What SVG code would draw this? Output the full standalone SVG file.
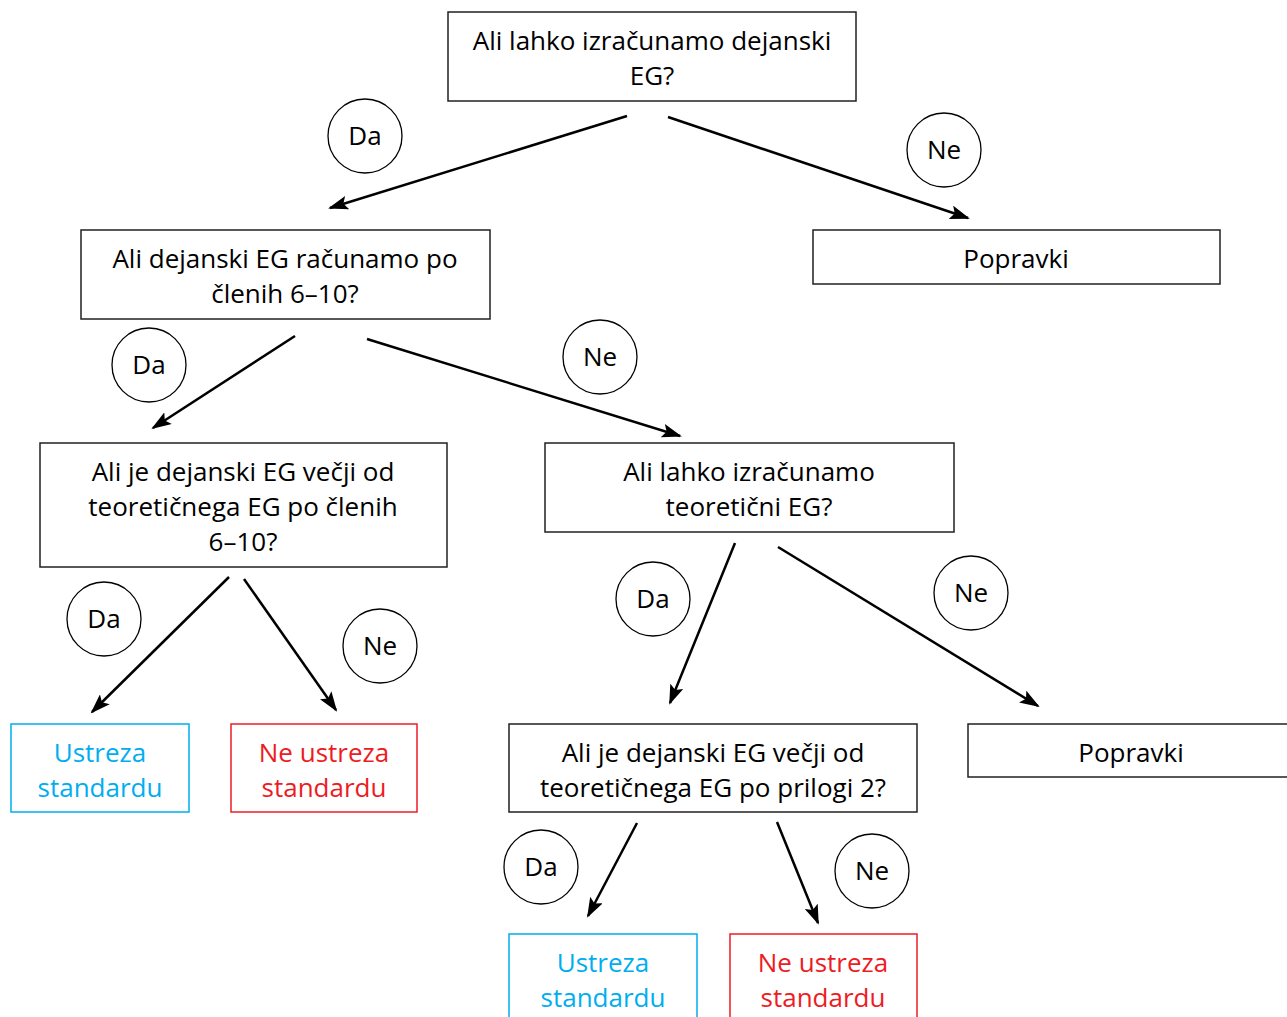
<svg xmlns="http://www.w3.org/2000/svg" width="1287" height="1017" viewBox="0 0 1287 1017">
<style>
.box{fill:#fff;stroke:#231f20;stroke-width:1.5}
.cy{fill:#fff;stroke:#00aeef;stroke-width:1.5}
.rd{fill:#fff;stroke:#ed1c24;stroke-width:1.5}
.c{fill:#fff;stroke:#000;stroke-width:1.3}
text{font-family:"Open Sans","Noto Sans",sans-serif;font-size:26px;text-anchor:middle;fill:#000}
.tc{fill:#00aeef}
.tr{fill:#ed1c24}
.ln{stroke:#000;stroke-width:2.5;fill:none;marker-end:url(#ah)}
</style>
<defs>
<marker id="ah" viewBox="0 0 20 14" refX="18" refY="7" markerWidth="20" markerHeight="14" markerUnits="userSpaceOnUse" orient="auto">
<path d="M0,0 L20,7 L0,14 L4,7 Z" fill="#000"/>
</marker>
</defs>
<rect width="1287" height="1017" fill="#fff"/>
<g id="connectors">
<line class="ln" x1="627" y1="116" x2="330" y2="208"/>
<line class="ln" x1="668" y1="117" x2="968" y2="218"/>
<line class="ln" x1="295" y1="336" x2="153" y2="428"/>
<line class="ln" x1="367" y1="339" x2="680" y2="436"/>
<line class="ln" x1="229" y1="577" x2="92" y2="712"/>
<line class="ln" x1="244" y1="579" x2="336" y2="710"/>
<line class="ln" x1="735" y1="543" x2="670" y2="703"/>
<line class="ln" x1="778" y1="547" x2="1038" y2="706"/>
<line class="ln" x1="637" y1="823" x2="588" y2="916"/>
<line class="ln" x1="777" y1="822" x2="818" y2="923"/>
</g>
<g id="n1"><rect class="box" x="448" y="12" width="408" height="89"/><text x="652" y="50">Ali lahko izračunamo dejanski</text><text x="652" y="85">EG?</text></g>
<g id="n2"><rect class="box" x="81" y="230" width="409" height="89"/><text x="285" y="268">Ali dejanski EG računamo po</text><text x="285" y="303">členih 6–10?</text></g>
<g id="n3"><rect class="box" x="813" y="230" width="407" height="54"/><text x="1016" y="268">Popravki</text></g>
<g id="n4"><rect class="box" x="40" y="443" width="407" height="124"/><text x="243" y="481">Ali je dejanski EG večji od</text><text x="243" y="516">teoretičnega EG po členih</text><text x="243" y="551">6–10?</text></g>
<g id="n5"><rect class="box" x="545" y="443" width="409" height="89"/><text x="749" y="481">Ali lahko izračunamo</text><text x="749" y="516">teoretični EG?</text></g>
<g id="n6"><rect class="cy" x="11" y="724" width="178" height="88"/><text class="tc" x="100" y="762">Ustreza</text><text class="tc" x="100" y="797">standardu</text></g>
<g id="n7"><rect class="rd" x="231" y="724" width="186" height="88"/><text class="tr" x="324" y="762">Ne ustreza</text><text class="tr" x="324" y="797">standardu</text></g>
<g id="n8"><rect class="box" x="509" y="724" width="408" height="88"/><text x="713" y="762">Ali je dejanski EG večji od</text><text x="713" y="797">teoretičnega EG po prilogi 2?</text></g>
<g id="n9"><rect class="box" x="968" y="724" width="330" height="53"/><text x="1131" y="762">Popravki</text></g>
<g id="n10"><rect class="cy" x="509" y="934" width="188" height="100"/><text class="tc" x="603" y="972">Ustreza</text><text class="tc" x="603" y="1007">standardu</text></g>
<g id="n11"><rect class="rd" x="730" y="934" width="187" height="100"/><text class="tr" x="823" y="972">Ne ustreza</text><text class="tr" x="823" y="1007">standardu</text></g>
<g id="labels">
<g id="l1"><circle class="c" cx="365" cy="136" r="37"/><text x="365" y="145">Da</text></g>
<g id="l2"><circle class="c" cx="944" cy="150" r="37"/><text x="944" y="159">Ne</text></g>
<g id="l3"><circle class="c" cx="149" cy="365" r="37"/><text x="149" y="374">Da</text></g>
<g id="l4"><circle class="c" cx="600" cy="357" r="37"/><text x="600" y="366">Ne</text></g>
<g id="l5"><circle class="c" cx="104" cy="619" r="37"/><text x="104" y="628">Da</text></g>
<g id="l6"><circle class="c" cx="380" cy="646" r="37"/><text x="380" y="655">Ne</text></g>
<g id="l7"><circle class="c" cx="653" cy="599" r="37"/><text x="653" y="608">Da</text></g>
<g id="l8"><circle class="c" cx="971" cy="593" r="37"/><text x="971" y="602">Ne</text></g>
<g id="l9"><circle class="c" cx="541" cy="867" r="37"/><text x="541" y="876">Da</text></g>
<g id="l10"><circle class="c" cx="872" cy="871" r="37"/><text x="872" y="880">Ne</text></g>
</g>
</svg>
